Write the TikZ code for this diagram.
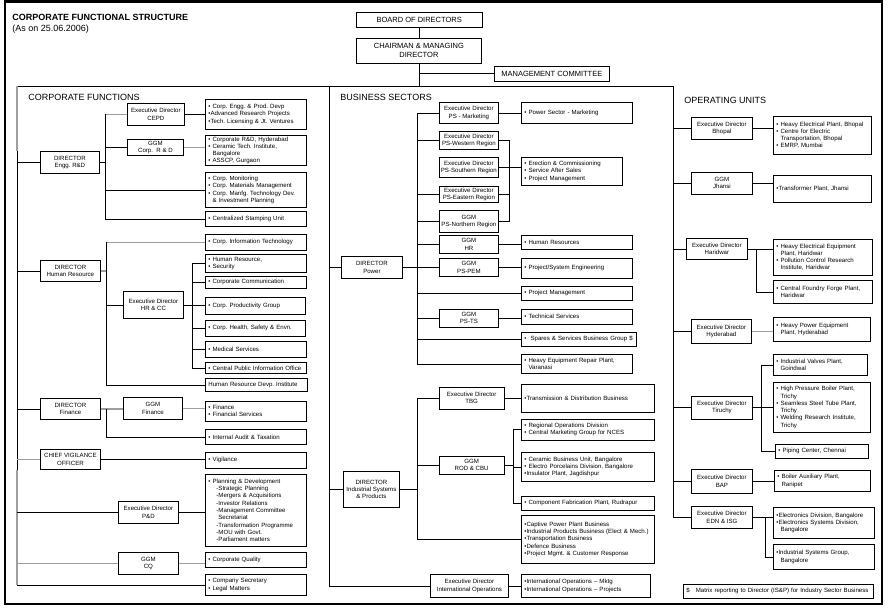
\documentclass[tikz,border=0pt]{standalone}
\usepackage{fontspec}
\setmainfont{Liberation Sans}
\definecolor{linegray}{gray}{0.62}
\newcommand{\contd}{\phantom{•~}}
\frenchspacing

\begin{document}
\begin{tikzpicture}[x=1pt, y=-1pt, line width=0.8pt,
	txt/.style={font=\fontsize{6.1}{7.3}\selectfont},
	head/.style={draw, txt, align=center, inner sep=1pt, anchor=north west},
	item/.style={draw, txt, align=left, inner xsep=3pt, inner ysep=1pt, anchor=north west},
	sec/.style={font=\fontsize{9}{11}\selectfont, anchor=west, inner sep=0pt},
	big/.style={font=\fontsize{7.5}{9}\selectfont},
	faint/.style={draw=linegray, line width=1.2pt}]
	\useasboundingbox (0,0) rectangle (891,614);
	\draw[line width=2.5pt] (5,1.5) rectangle (882,604);
	\node[sec, font=\bfseries\fontsize{9}{11}\selectfont] (title) at (12,17) {CORPORATE FUNCTIONAL STRUCTURE};
	\node[sec] (date) at (12,29) {(As on 25.06.2006)};

	% top of the chart
	\node[head, big, minimum width=125.5, minimum height=15] (board) at (356,12.3) {BOARD OF DIRECTORS};
	\node[head, big, minimum width=125, minimum height=25.6] (cmd) at (356,37.7) {CHAIRMAN \& MANAGING\\DIRECTOR};
	\node[head, big, minimum width=114.4, minimum height=15] (mc) at (494.3,65.7) {MANAGEMENT COMMITTEE};
	\coordinate (rail) at (0,86);
	\coordinate (cfs) at (17,86);
	\coordinate (bss) at (329,86);
	\coordinate (ous) at (673,86);
	\draw (board.south) -- (board.south |- cmd.north);
	\draw (cmd.south) -- (cmd.south |- rail);
	\draw (cmd.south |- mc.west) -- (mc.west);
	\draw (cfs) -- (ous);

	\node[sec] (hcf) at (28,97.7) {CORPORATE FUNCTIONS};
	\node[sec] (hbs) at (340,97.7) {BUSINESS SECTORS};
	\node[sec] (hou) at (684,100) {OPERATING UNITS};

	% corporate functions
	\node[head, minimum width=59, minimum height=22] (dirrd) at (40,151) {DIRECTOR\\Engg. R\&D};
	\node[head, minimum width=57, minimum height=22] (edcepd) at (127,103) {Executive Director\\CEPD};
	\node[item, text width=95, minimum height=30] (cepd) at (205,99) {• Corp. Engg. \& Prod. Devp\\•Advanced Research Projects\\•Tech. Licensing \& Jt. Ventures};
	\node[head, minimum width=56, minimum height=16] (ggmrd) at (127,139) {GGM\\Corp.~~R \& D};
	\node[item, text width=95, minimum height=30] (rd) at (205,135) {• Corporate R\&D, Hyderabad\\• Ceramic Tech. Institute,\\\contd Bangalore\\• ASSCP, Gurgaon};
	\node[item, text width=95, minimum height=35] (mon) at (205,172) {• Corp. Monitoring\\• Corp. Materials Management\\• Corp. Manfg. Technology Dev.\\\contd\& Investment Planning};
	\node[item, text width=95, minimum height=15] (csu) at (205,211) {• Centralized Stamping Unit};

	\node[head, minimum width=60, minimum height=21] (dirhr) at (40,260) {DIRECTOR\\Human Resource};
	\node[item, text width=95, minimum height=15.5] (cit) at (205,234) {• Corp. Information Technology};
	\node[head, minimum width=60, minimum height=27] (edhr) at (123,291) {Executive Director\\HR \& CC};
	\node[item, text width=95, minimum height=18] (hrs) at (205,254) {• Human Resource,\\• Security};
	\node[item, text width=95, minimum height=12] (cc) at (205,276) {• Corporate Communication};
	\node[item, text width=94, minimum height=16.5] (cpg) at (205,297) {• Corp. Productivity Group};
	\node[item, text width=94, minimum height=16] (hse) at (205,320) {• Corp. Health, Safety \& Envn.};
	\node[item, text width=95, minimum height=16] (med) at (205,341) {• Medical Services};
	\node[item, text width=95, minimum height=11] (cpio) at (205,362) {• Central Public Information Office};
	\node[item, text width=96, minimum height=13] (hrdi) at (205,378) {Human Resource Devp. Institute};

	\node[head, minimum width=60, minimum height=21] (dirfin) at (40,398) {DIRECTOR\\Finance};
	\node[head, minimum width=59, minimum height=22] (ggmfin) at (123,397) {GGM\\Finance};
	\node[item, text width=95, minimum height=20.5] (fin) at (205,400.5) {• Finance\\• Financial Services};
	\node[item, text width=95, minimum height=15] (iat) at (205,429) {• Internal Audit \& Taxation};

	\node[head, minimum width=60, minimum height=20] (cvo) at (40,449) {CHIEF VIGILANCE\\OFFICER};
	\node[item, text width=95, minimum height=16] (vig) at (205,452) {• Vigilance};

	\node[head, minimum width=60, minimum height=22] (edpd) at (118,501) {Executive Director\\P\&D};
	\node[item, text width=95, minimum height=72] (pd) at (205,474) {• Planning \& Development\\\hspace*{8pt}-Strategic Planning\\\hspace*{8pt}-Mergers \& Acquisitions\\\hspace*{8pt}-Investor Relations\\\hspace*{8pt}-Management Committee\\\hspace*{10pt}Secretariat\\\hspace*{8pt}-Transformation Programme\\\hspace*{8pt}-MOU with Govt.\\\hspace*{8pt}-Parliament matters};
	\node[head, minimum width=60, minimum height=21.5] (ggmcq) at (118,552) {GGM\\CQ};
	\node[item, text width=95, minimum height=15] (cq) at (205,552) {• Corporate Quality};
	\node[item, text width=95, minimum height=21] (cs) at (205,574) {• Company Secretary\\• Legal Matters};

	\draw[faint] (cfs) -- (cfs |- dirrd.north);
	\draw (cfs |- dirrd.north) -- (cfs |- cvo.south);
	\draw[faint] (cfs |- cvo.south) -- (cfs |- cs.west);
	\draw (cfs |- dirrd.west) -- (dirrd.west);
	\draw (cfs |- dirhr.west) -- (dirhr.west);
	\draw (cfs |- dirfin.west) -- (dirfin.west);
	\draw[faint] (cfs |- cvo.west) -- (cvo.west);
	\draw (cfs |- edpd.west) -- (edpd.west);
	\draw[faint] (cfs |- ggmcq.west) -- (ggmcq.west);
	\draw (cfs |- cs.west) -- (cs.west);

	\draw (dirrd.east) -- ++(6,0) coordinate (rdbus);
	\draw[faint] (rdbus |- edcepd.west) -- (edcepd.west);
	\draw (rdbus |- edcepd.west) -- (rdbus |- csu.west) -- (csu.west);
	\draw (rdbus |- ggmrd.west) -- (ggmrd.west);
	\draw (rdbus |- mon.west) -- (mon.west);
	\draw (edcepd.east) -- (edcepd.east -| cepd.west);
	\draw[faint] (ggmrd.east) -- (ggmrd.east -| rd.west);

	\draw[faint] (dirhr.east) -- ++(6,0) coordinate (hrbus);
	\draw[faint] (hrbus |- cit.west) -- (cit.west);
	\draw (hrbus |- cit.west) -- (hrbus |- hrdi.west) -- (hrdi.west);
	\draw (hrbus |- edhr.west) -- (edhr.west);
	\draw (edhr.east) -- ++(9,0) coordinate (ccbus);
	\draw (ccbus |- hrs.west) -- (ccbus |- cpio.west) -- (cpio.west);
	\draw (ccbus |- hrs.west) -- (hrs.west);
	\draw (ccbus |- cc.west) -- (cc.west);
	\draw (ccbus |- cpg.west) -- (cpg.west);
	\draw (ccbus |- hse.west) -- (hse.west);
	\draw (ccbus |- med.west) -- (med.west);

	\draw[faint] (dirfin.east) -- (dirfin.east -| ggmfin.west);
	\path (dirfin.east) -- ++(6,0) coordinate (finbus);
	\draw (finbus) |- (iat.west);
	\draw[faint] (ggmfin.east) -- (ggmfin.east -| fin.west);
	\draw (cvo.east) -- (cvo.east -| vig.west);
	\draw (edpd.east) -- (edpd.east -| pd.west);
	\draw[faint] (ggmcq.east) -- (ggmcq.east -| cq.west);

	% business sectors
	\node[head, minimum width=61, minimum height=22] (dirpow) at (341,256) {DIRECTOR\\Power};
	\node[head, minimum width=59, minimum height=21] (edmkt) at (439,102) {Executive Director\\PS - Marketing};
	\node[item, text width=104.5, minimum height=21] (mkt) at (521,102) {• Power Sector - Marketing};
	\node[head, minimum width=59, minimum height=18] (edwest) at (439,131) {Executive Director\\PS-Western Region};
	\node[head, minimum width=59, minimum height=20] (edsouth) at (439,157) {Executive Director\\PS-Southern Region};
	\node[head, minimum width=59, minimum height=16] (edeast) at (439,186) {Executive Director\\PS-Eastern Region};
	\node[head, minimum width=59, minimum height=22] (ggmnorth) at (439,210) {GGM\\PS-Northern Region};
	\node[item, text width=95, minimum height=28] (erect) at (521,157) {• Erection \& Commissioning\\• Service After Sales\\• Project Management};
	\node[head, minimum width=59, minimum height=18] (ggmhr) at (439,235) {GGM\\HR};
	\node[item, text width=104.5, minimum height=14] (hr) at (521,235) {• Human Resources};
	\node[head, minimum width=59, minimum height=18] (ggmpem) at (439,258) {GGM\\PS-PEM};
	\node[item, text width=104.5, minimum height=20] (pem) at (521,258) {• Project/System Engineering};
	\node[item, text width=104.5, minimum height=14] (pm) at (521,286) {• Project Management};
	\node[head, minimum width=59, minimum height=17.5] (ggmts) at (439,309) {GGM\\PS-TS};
	\node[item, text width=104.5, minimum height=14.5] (ts) at (521,309) {• Technical Services};
	\node[item, text width=108.5, minimum height=14] (spares) at (521,331.5) {•~ Spares \& Services Business Group \$};
	\node[item, text width=104.5, minimum height=19] (herp) at (521,354) {• Heavy Equipment Repair Plant,\\\contd Varanasi};

	\node[head, minimum width=56, minimum height=36] (dirisp) at (343,471) {DIRECTOR\\Industrial Systems\\\& Products};
	\node[head, minimum width=64.5, minimum height=21.5] (edtbg) at (439,387) {Executive Director\\TBG};
	\node[item, text width=127, minimum height=27.5] (tbg) at (521,384) {•Transmission \& Distribution Business};
	\node[head, minimum width=64.5, minimum height=18] (ggmrod) at (439,455.5) {GGM\\ROD \& CBU};
	\node[item, text width=127, minimum height=20.5] (rodiv) at (521,419) {• Regional Operations Division\\• Central Marketing Group for NCES};
	\node[item, text width=127, minimum height=29] (cbu) at (521,452) {• Ceramic Business Unit, Bangalore\\• Electro Porcelains Division, Bangalore\\•Insulator Plant, Jagdishpur};
	\node[item, text width=127, minimum height=14] (cfp) at (521,496) {• Component Fabrication Plant, Rudrapur};
	\node[item, text width=127, minimum height=48] (captive) at (521,515) {•Captive Power Plant Business\\•Industrial Products Business (Elect \& Mech.)\\•Transportation Business\\•Defence Business\\•Project Mgmt. \& Customer Response};
	\node[head, minimum width=78, minimum height=23] (edintl) at (430,574) {Executive Director\\International Operations};
	\node[item, text width=123, minimum height=23] (intl) at (521,574) {•International Operations – Mktg\\•International Operations – Projects};

	\draw (bss) -- (bss |- edintl.west) -- (edintl.west);
	\draw (bss |- dirpow.west) -- (dirpow.west);
	\draw (bss |- dirisp.west) -- (dirisp.west);
	\draw (dirpow.east) -- ++(14.5,0) coordinate (powbus);
	\draw (powbus |- edmkt.west) -- (powbus |- herp.west) -- (herp.west);
	\draw (powbus |- edmkt.west) -- (edmkt.west);
	\draw (powbus |- edwest.west) -- (edwest.west);
	\draw (powbus |- edeast.west) -- (edeast.west);
	\draw (powbus |- ggmnorth.west) -- (ggmnorth.west);
	\draw (powbus |- ggmhr.west) -- (ggmhr.west);
	\draw (powbus |- ggmpem.west) -- (ggmpem.west);
	\draw (powbus |- pm.west) -- (pm.west);
	\draw (powbus |- ggmts.west) -- (ggmts.west);
	\draw (powbus |- spares.west) -- (spares.west);
	\draw (edmkt.east) -- (edmkt.east -| mkt.west);
	\draw (edwest.east) -- ++(10.5,0) coordinate (psbus);
	\draw (psbus) |- (ggmnorth.east);
	\draw (psbus |- edeast.east) -- (edeast.east);
	\draw (edsouth.east) -- (edsouth.east -| erect.west);
	\draw (ggmhr.east) -- (ggmhr.east -| hr.west);
	\draw (ggmpem.east) -- (ggmpem.east -| pem.west);
	\draw (ggmts.east) -- (ggmts.east -| ts.west);

	\draw (dirisp.east) -- ++(17.5,0) coordinate (ispbus);
	\draw (ispbus |- edtbg.west) -- (ispbus |- captive.west) -- (captive.west);
	\draw (ispbus |- edtbg.west) -- (edtbg.west);
	\draw (ispbus |- ggmrod.west) -- (ggmrod.west);
	\draw (edtbg.east) -- (edtbg.east -| tbg.west);
	\draw (ggmrod.east) -- ++(9,0) coordinate (rodbus);
	\draw (rodbus |- rodiv.west) -- (rodbus |- cfp.west) -- (cfp.west);
	\draw (rodbus |- rodiv.west) -- (rodiv.west);
	\draw (rodbus |- cbu.west) -- (cbu.west);
	\draw (edintl.east) -- (edintl.east -| intl.west);

	% operating units
	\node[head, minimum width=61, minimum height=22] (edbho) at (691,117) {Executive Director\\Bhopal};
	\node[item, text width=91.5, minimum height=37.5] (bho) at (773,116) {• Heavy Electrical Plant, Bhopal\\• Centre for Electric\\\contd Transportation, Bhopal\\• EMRP, Mumbai};
	\node[head, minimum width=61, minimum height=21.5] (ggmjha) at (691,172) {GGM\\Jhansi};
	\node[item, text width=91.5, minimum height=27] (jha) at (773,175) {•Transformer Plant, Jhansi};
	\node[head, minimum width=61, minimum height=21] (edhar) at (686,238) {Executive Director\\Haridwar};
	\node[item, text width=93, minimum height=36.5] (har1) at (773,238.5) {• Heavy Electrical Equipment\\\contd Plant, Haridwar\\• Pollution Control Research\\\contd Institute, Haridwar};
	\node[item, text width=93, minimum height=23] (har2) at (773,280) {• Central Foundry Forge Plant,\\\contd Haridwar};
	\node[head, minimum width=60, minimum height=24] (edhyd) at (691,319) {Executive Director\\Hyderabad};
	\node[item, text width=91, minimum height=24] (hyd) at (773,317) {• Heavy Power Equipment\\\contd Plant, Hyderabad};
	\node[head, minimum width=61, minimum height=22.5] (edtir) at (691,396) {Executive Director\\Tiruchy};
	\node[item, text width=88, minimum height=21] (valves) at (773,354) {• Industrial Valves Plant,\\\contd Goindwal};
	\node[item, text width=91, minimum height=50] (hpbp) at (773,382) {• High Pressure Boiler Plant,\\\contd Trichy\\• Seamless Steel Tube Plant,\\\contd Trichy\\• Welding Research Institute,\\\contd Trichy};
	\node[item, text width=87, minimum height=13.5] (piping) at (775,444) {• Piping Center, Chennai};
	\node[head, minimum width=61, minimum height=23.5] (edbap) at (691,469) {Executive Director\\BAP};
	\node[item, text width=90, minimum height=21] (bap) at (774,470) {• Boiler Auxiliary Plant,\\\contd Ranipet};
	\node[head, minimum width=61, minimum height=22] (ededn) at (691,506) {Executive Director\\EDN \& ISG};
	\node[item, text width=95, minimum height=31] (edn1) at (773,507) {•Electronics Division, Bangalore\\•Electronics Systems Division,\\\contd Bangalore};
	\node[item, text width=95, minimum height=25] (edn2) at (773,544) {•Industrial Systems Group,\\\contd Bangalore};
	\node[item, text width=184, minimum height=13.5] (note) at (683,584) {\$~~~Matrix reporting to Director (IS\&P) for Industry Sector Business};

	\draw (ous) -- (ous |- ededn.west) -- (ededn.west);
	\draw (ous |- edbho.west) -- (edbho.west);
	\draw (ous |- ggmjha.west) -- (ggmjha.west);
	\draw (ous |- edhar.west) -- (edhar.west);
	\draw (ous |- edhyd.west) -- (edhyd.west);
	\draw (ous |- edtir.west) -- (edtir.west);
	\draw (ous |- edbap.west) -- (edbap.west);
	\draw (edbho.east) -- (edbho.east -| bho.west);
	\draw (ggmjha.east) -- (ggmjha.east -| jha.west);
	\draw (edhar.east) -- (edhar.east -| har1.west);
	\path (edhar.east) -- ++(9,0) coordinate (harbus);
	\draw (harbus) |- (har2.west);
	\draw[faint] (edhyd.east) -- (edhyd.east -| hyd.west);
	\draw (edtir.east) -- ++(8.3,0) coordinate (tirbus);
	\draw (tirbus |- valves.west) -- (tirbus |- piping.west) -- (piping.west);
	\draw (tirbus |- valves.west) -- (valves.west);
	\draw (tirbus) -- (tirbus -| hpbp.west);
	\draw (edbap.east) -- (edbap.east -| bap.west);
	\draw (ededn.east) -- (ededn.east -| edn1.west);
	\path (ededn.east) -- ++(12.3,0) coordinate (ednbus);
	\draw (ednbus) |- (edn2.west);
\end{tikzpicture}
\end{document}
